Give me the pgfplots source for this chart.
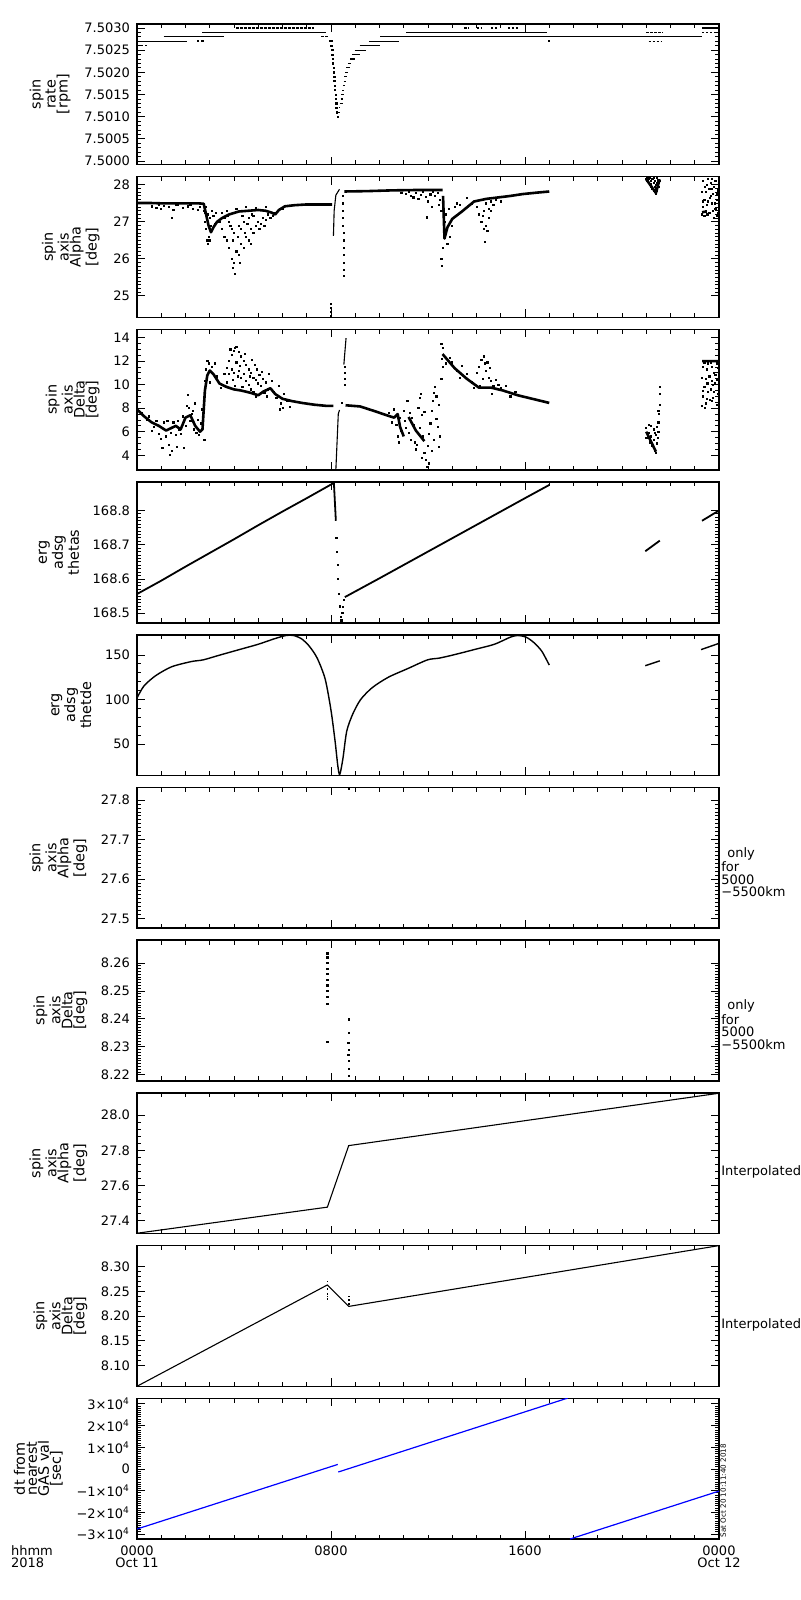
\documentclass[border=0pt]{standalone}
\usepackage{fontspec}
\setmainfont{DejaVu Sans}
\usepackage{pgfplots}
\pgfplotsset{compat=1.18}
\pgfplotsset{
  panel/.style={scale only axis, width=291pt, height=70.35pt, anchor=north west,
    xmin=0, xmax=24, xtick={0,8,16,24}, minor x tick num=7, xticklabels={},
    tick align=inside, major tick length=4pt, minor tick length=2.2pt,
    axis line style={line width=0.75pt},
    every tick/.style={black, line width=0.45pt},
    tick label style={font=\fontsize{6.5}{6}\selectfont},
    ylabel style={font=\fontsize{7.2}{6}\selectfont, align=center},
    /pgf/number format/assume math mode=true,
    clip mode=individual, scaled y ticks=false,
    unbounded coords=jump},
  dots/.style={only marks, mark=square*, mark size=0.3pt, black},
  band/.style={black, line width=1.3pt, line join=round, mark=none},
  thin/.style={black, line width=0.55pt, mark=none},
  dsh/.style={black, line width=0.55pt, mark=none, dash pattern=on 1.2pt off 0.8pt},
}
\tikzset{note/.style={anchor=west, align=left, font=\fontsize{6.5}{6.2}\selectfont, inner sep=1pt}}
\begin{document}
\begin{tikzpicture}
\fill[white] (0,0) rectangle (400pt,800pt);
\useasboundingbox (0,0) rectangle (400pt,800pt);

% ---------- Panel 1: spin rate ----------
\begin{axis}[panel, at={(68.5pt,788pt)}, ymin=7.49992, ymax=7.50309,
  ytick={7.5000,7.5005,7.5010,7.5015,7.5020,7.5025,7.5030},
  yticklabels={7.5000,7.5005,7.5010,7.5015,7.5020,7.5025,7.5030},
  minor y tick num=4, ylabel={spin\\rate\\{[rpm]}}]
\addplot[thin] coordinates {
(9.18,7.5026) (10.0,7.5026) (10.0,nan)
(0,7.5027) (2.05,7.5027) (2.05,nan)
(9.56,7.5027) (10.82,7.5027) (10.82,nan)
(1.1,7.5028) (3.6,7.5028) (3.6,nan)
(10.04,7.5028) (23.3,7.5028) (23.3,nan)
(2.7,7.5029) (7.8,7.5029) (7.8,nan)
(11.1,7.5029) (16.9,7.5029) (16.9,nan)
(23.3,7.5030) (24,7.5030) (24,nan)
(8.97,7.5025) (9.45,7.5025) (9.45,nan)
(8.88,7.5024) (9.18,7.5024) (9.18,nan)
(8.79,7.5023) (8.97,7.5023) (8.97,nan)
(8.70,7.5022) (8.84,7.5022) (8.84,nan)
(8.63,7.5021) (8.77,7.5021) (8.77,nan)
(8.59,7.5020) (8.70,7.5020) (8.70,nan)
(8.55,7.5019) (8.66,7.5019) (8.66,nan)
(8.52,7.5018) (8.60,7.5018) (8.60,nan)
(8.49,7.5017) (8.58,7.5017) (8.58,nan)
(8.47,7.5016) (8.55,7.5016) (8.55,nan)
(8.42,7.5015) (8.52,7.5015) (8.52,nan)
(8.40,7.5014) (8.49,7.5014) (8.49,nan)
(8.36,7.5013) (8.49,7.5013) (8.49,nan)
(8.32,7.5012) (8.38,7.5012) (8.38,nan)
(8.25,7.5011) (8.36,7.5011) (8.36,nan)
(8.25,7.5010) (8.33,7.5010)
};
\addplot[dsh] coordinates {
(0,7.5026) (0.4,7.5026) (0.4,nan)
(21.1,7.5027) (21.6,7.5027) (21.6,nan)
(7.6,7.5028) (7.9,7.5028) (7.9,nan)
(21.0,7.5029) (21.7,7.5029) (21.7,nan)
(23.3,7.5029) (24,7.5029) (24,nan)
(4.1,7.5030) (7.3,7.5030) (7.3,nan)
(13.5,7.5030) (13.7,7.5030) (13.7,nan)
(14.0,7.5030) (14.2,7.5030) (14.2,nan)
(14.6,7.5030) (14.9,7.5030) (14.9,nan)
(15.3,7.5030) (15.7,7.5030)
};
\addplot[dots] coordinates {
(7.95,7.5027) (7.99,7.5026) (8.04,7.5027) (8.04,7.5026) (8.055,7.5025) (8.055,7.5024)
(8.08,7.5023) (8.08,7.5022) (8.11,7.5021) (8.11,7.5020) (8.14,7.5019) (8.14,7.5018)
(8.16,7.5017) (8.16,7.5016) (8.19,7.5015) (8.19,7.5014) (8.22,7.5013) (8.22,7.5012)
(8.25,7.5011) (8.29,7.5010) (17.0,7.5027) (2.5,7.5027) (2.7,7.5027)
};
\end{axis}

% ---------- Panel 2: spin axis Alpha ----------
\begin{axis}[panel, at={(68.5pt,711.65pt)}, ymin=24.42, ymax=28.22,
  ytick={25,26,27,28}, yticklabels={25,26,27,28}, minor y tick num=9,
  ylabel={spin\\axis\\Alpha\\{[deg]}}]
\addplot[band] coordinates {
(0,27.51) (0.5,27.51) (1.0,27.5) (1.5,27.5) (2.0,27.5) (2.5,27.5) (2.75,27.49)
(2.85,27.2) (2.95,26.9) (3.05,26.72) (3.15,26.85) (3.3,27.0) (3.5,27.1) (3.8,27.2)
(4.2,27.28) (4.6,27.3) (5.0,27.32) (5.3,27.3) (5.55,27.25) (5.7,27.2) (5.85,27.32)
(6.1,27.42) (6.5,27.45) (7.0,27.47) (7.5,27.47) (8.05,27.47) (8.05,nan)
(8.55,27.82) (9.5,27.83) (10.5,27.85) (11.5,27.86) (12.6,27.86) (12.6,nan)
(12.62,27.7) (12.68,26.55) (12.8,26.85) (13.0,27.08) (13.4,27.28) (13.9,27.55)
(14.4,27.62) (14.9,27.66) (15.4,27.7) (15.9,27.75) (16.5,27.79) (17.0,27.82) (17.0,nan)
(21.0,28.15) (21.4,27.78) (21.55,28.15) (21.55,nan)
(23.3,27.26) (23.5,27.28)
};
\addplot[thin] coordinates {(8.1,26.62) (8.13,27.3) (8.2,27.72) (8.35,27.88)};
\addplot[dsh] coordinates {(8.0,24.42) (8.0,24.85)};
\addplot[dots] coordinates {
(0.6,27.42) (0.8,27.38) (1.0,27.35) (1.1,27.44) (1.3,27.4) (1.5,27.32) (1.7,27.45)
(1.9,27.38) (2.1,27.42) (2.3,27.36) (2.5,27.33) (2.6,27.4) (0.9,27.46) (1.6,27.47)
(2.2,27.46) (1.43,27.1)
(2.75,27.3) (2.8,27.0) (2.85,26.8) (2.9,26.5) (2.92,26.4) (2.95,26.6) (3.0,27.1)
(3.05,26.9) (2.8,27.25) (2.9,27.2) (3.1,27.3) (3.2,26.95) (3.0,26.5) (2.85,27.4)
(3.15,27.15) (3.25,27.25)
(3.4,27.0) (3.5,26.8) (3.6,26.6) (3.7,26.5) (3.8,26.3) (3.9,26.0) (4.0,25.9)
(4.05,25.6) (4.1,26.2) (4.2,26.1) (4.3,26.4) (4.4,26.3) (4.5,26.6) (4.6,26.5)
(4.7,26.8) (4.8,26.7) (4.9,26.9) (5.0,27.0) (5.1,26.95) (5.2,27.1) (5.3,27.05)
(5.4,27.2) (5.5,27.1) (5.6,27.15) (5.7,27.25) (3.6,27.1) (3.8,27.0) (3.9,26.8)
(4.0,26.7) (4.2,26.9) (4.4,27.0) (4.6,27.1) (4.8,27.15) (3.5,27.25) (3.7,27.3)
(4.1,27.35) (4.5,27.4) (4.9,27.38) (5.3,27.4) (5.8,27.3) (6.0,27.35) (4.3,26.8)
(4.7,26.4) (3.95,26.5) (4.15,26.6) (4.35,27.15) (4.55,26.95) (4.75,27.2) (5.05,26.8)
(5.25,26.9) (3.85,26.9) (3.75,27.15) (4.45,26.7) (4.25,25.9) (3.95,25.75)
(8.5,27.7) (8.5,27.5) (8.5,27.3) (8.5,27.1) (8.5,26.9) (8.52,26.7) (8.52,26.5)
(8.52,26.3) (8.53,26.1) (8.53,25.9) (8.53,25.7) (8.53,25.55)
(10.9,27.78) (11.1,27.75) (11.3,27.7) (11.5,27.78) (11.7,27.72) (11.9,27.68)
(12.1,27.74) (12.3,27.7) (12.5,27.6) (11.6,27.62) (12.0,27.55) (12.4,27.78)
(11.2,27.8) (11.8,27.8) (12.2,27.81) (11.4,27.66) (12.45,27.45) (12.55,27.3)
(11.95,27.12) (12.15,27.4)
(12.55,26.0) (12.58,25.8) (12.62,26.3) (12.65,26.7) (12.7,27.0) (12.75,27.2)
(12.6,27.5) (12.85,27.35) (12.9,26.6) (13.0,26.9) (13.1,27.4) (13.2,27.5)
(12.8,26.4) (13.3,27.45)
(13.8,27.5) (14.0,27.4) (14.1,27.2) (14.2,27.0) (14.3,26.8) (14.35,26.45)
(14.4,26.9) (14.5,27.1) (14.6,27.3) (14.7,27.45) (14.2,27.6) (14.4,27.5)
(14.5,27.35) (14.3,27.3) (14.6,27.55) (14.8,27.6) (13.6,27.65) (15.0,27.55)
(14.25,27.15) (14.45,26.75)
(21.0,28.15) (21.05,28.1) (21.1,28.05) (21.15,28.0) (21.2,27.95) (21.25,27.9)
(21.3,27.85) (21.35,27.8) (21.4,27.76) (21.45,27.85) (21.5,27.95) (21.55,28.1)
(21.1,28.15) (21.2,28.1) (21.3,28.05) (21.4,28.0) (21.5,28.12) (21.25,28.15)
(21.35,27.95) (21.45,28.05) (21.15,28.2) (21.3,28.18) (21.45,28.18) (21.05,28.2)
(21.2,28.02) (21.35,28.1) (21.4,27.88)
(23.3,27.2) (23.35,27.4) (23.4,27.6) (23.45,27.8) (23.5,28.0) (23.55,28.15)
(23.6,27.9) (23.65,27.7) (23.7,27.5) (23.75,27.3) (23.8,27.1) (23.85,27.35)
(23.9,27.6) (23.95,27.85) (23.35,28.1) (23.45,27.3) (23.55,27.55) (23.65,28.05)
(23.75,27.75) (23.85,28.1) (23.95,27.25) (23.3,27.8) (23.4,27.15) (23.5,27.45)
(23.6,27.25) (23.7,28.15) (23.8,27.95) (23.9,27.15) (23.32,27.55) (23.42,27.95)
(23.52,27.2) (23.62,27.65) (23.72,27.9) (23.82,27.5) (23.92,27.75)
};
\end{axis}

% ---------- Panel 3: spin axis Delta ----------
\begin{axis}[panel, at={(68.5pt,635.3pt)}, ymin=2.74, ymax=14.7,
  ytick={4,6,8,10,12,14}, yticklabels={4,6,8,10,12,14}, minor y tick num=3,
  ylabel={spin\\axis\\Delta\\{[deg]}}]
\addplot[band] coordinates {
(0,7.9) (0.3,7.3) (0.6,6.8) (0.9,6.5) (1.2,6.1) (1.4,6.3) (1.6,6.5) (1.8,6.2)
(2.0,7.2) (2.2,7.4) (2.4,6.5) (2.6,6.0) (2.7,6.2) (2.8,9.5) (2.9,10.8) (3.0,11.2)
(3.15,10.9) (3.4,10.1) (3.7,9.8) (4.0,9.6) (4.3,9.5) (4.7,9.3) (5.0,9.1) (5.2,9.4)
(5.5,9.7) (5.7,9.2) (6.0,8.8) (6.4,8.6) (6.8,8.45) (7.3,8.3) (7.8,8.2) (8.1,8.2) (8.1,nan)
(8.6,8.25) (9.2,8.15) (9.8,7.75) (10.3,7.4) (10.6,7.2) (10.75,7.5) (10.85,6.4) (11.0,5.6) (11.0,nan)
(11.2,7.25) (11.5,6.1) (11.85,5.2) (11.85,nan)
(12.6,12.6) (13.1,11.4) (13.6,10.5) (14.1,9.75) (14.6,9.75) (15.1,9.5) (15.7,9.1)
(16.4,8.75) (17.0,8.45) (17.0,nan)
(21.0,6.0) (21.4,4.3) (21.4,nan)
(23.3,12.0) (24,12.0)
};
\addplot[thin] coordinates {(8.2,2.74) (8.3,7.5) (8.35,7.85) (8.35,nan) (8.53,11.7) (8.62,13.95)};
\addplot[dots] coordinates {
(8.45,8.45) (8.58,10.0) (8.58,10.5) (8.58,11.0) (8.58,11.5)
(0.2,7.6) (0.4,7.0) (0.5,7.3) (0.7,6.4) (0.8,6.9) (0.9,5.8) (1.0,5.4) (1.05,4.6)
(1.1,6.8) (1.2,5.6) (1.3,4.9) (1.35,4.0) (1.4,5.9) (1.5,6.8) (1.6,5.7) (1.65,4.7)
(1.7,6.9) (1.8,5.8) (1.9,7.3) (2.0,6.5) (2.05,8.2) (2.1,9.1) (2.15,8.0) (2.2,6.9)
(2.3,7.8) (2.35,6.2) (2.4,8.4) (2.5,7.0) (2.55,5.7) (2.65,6.7) (2.7,7.9) (2.75,8.7)
(2.78,5.3) (2.8,10.3) (2.85,11.3) (2.9,12.0) (2.95,11.8) (3.0,10.2) (3.1,11.5)
(3.2,11.8) (3.3,10.7) (3.45,9.7) (1.95,4.6) (0.6,6.1) (1.25,6.9) (1.45,4.4)
(1.75,6.2) (2.25,7.5) (2.45,5.9)
(3.6,10.9) (3.7,11.4) (3.8,12.0) (3.9,12.5) (4.0,12.9) (4.1,13.2) (4.2,12.8)
(4.3,12.4) (4.4,12.0) (4.5,11.7) (4.6,11.3) (4.7,11.0) (4.8,10.6) (4.9,10.4)
(5.0,10.1) (5.1,9.9) (5.2,10.5) (5.3,10.2) (5.4,9.6) (3.7,10.2) (3.8,10.9)
(3.9,11.3) (4.0,11.0) (4.1,11.9) (4.2,11.2) (4.3,10.6) (4.4,10.9) (4.5,10.3)
(4.6,10.0) (4.7,9.6) (4.8,9.4) (4.9,9.0) (3.95,10.4) (4.05,9.9) (4.15,10.7)
(4.25,11.6) (4.35,9.8) (4.45,12.6) (4.55,9.4) (4.65,10.7) (4.75,12.1) (4.85,11.7)
(4.95,11.3) (5.05,10.8) (5.15,11.1) (5.25,9.3) (5.35,9.0) (5.45,10.9) (5.55,10.3)
(5.65,9.4) (5.75,8.9) (5.85,9.9) (5.95,8.4) (6.05,9.2) (6.2,8.6) (6.3,8.1)
(5.9,7.9) (6.0,8.0) (3.85,13.0) (4.05,13.1)
(10.4,7.6) (10.5,6.8) (10.6,7.9) (10.7,6.6) (10.75,5.6) (10.8,5.1) (10.85,7.2)
(10.9,6.1) (11.0,7.8) (11.05,6.9) (11.1,6.3) (11.15,8.6) (11.2,5.9) (11.3,5.3)
(11.35,7.2) (11.4,6.6) (11.45,5.1) (11.5,4.5) (11.55,6.0) (11.6,8.0) (11.65,8.9)
(11.7,9.2) (11.75,7.4) (11.8,5.6) (11.85,4.2) (11.9,3.6) (11.95,3.0) (12.0,4.8)
(12.05,5.8) (12.1,6.7) (12.15,7.8) (12.2,8.6) (12.25,9.3) (12.3,9.8) (12.35,7.1)
(12.4,6.4) (12.45,8.3) (12.5,5.6) (12.55,10.5) (12.6,11.5) (12.62,13.1) (12.58,12.2)
(11.25,7.6) (11.55,4.9) (11.75,3.8) (12.05,3.3) (12.25,5.3) (11.85,7.7) (12.15,4.4)
(11.65,6.3) (12.35,9.0) (12.45,4.7) (12.55,13.5)
(13.0,11.9) (13.2,11.2) (13.4,11.6) (13.6,10.9) (13.8,10.2) (14.0,11.0) (14.1,11.5)
(14.2,12.1) (14.3,12.4) (14.35,11.8) (14.4,11.2) (14.5,10.6) (14.6,10.3) (14.7,9.9)
(14.8,10.4) (14.9,10.0) (15.0,9.7) (14.25,10.5) (14.45,11.9) (14.15,9.9) (14.55,11.4)
(13.9,9.7) (14.65,9.2) (13.3,10.6) (12.9,12.3) (12.75,11.8) (15.2,9.9) (15.4,9.0)
(15.6,9.4)
(21.0,6.3) (21.05,5.5) (21.1,5.9) (21.15,5.1) (21.2,5.6) (21.25,4.8) (21.3,5.3)
(21.35,4.4) (21.4,4.2) (21.45,5.0) (21.5,6.0) (21.5,6.8) (21.52,7.5) (21.55,8.3)
(21.55,9.2) (21.55,9.8) (21.45,6.4) (21.4,5.7) (21.3,6.2) (21.2,6.5) (21.1,6.6)
(21.0,5.5) (21.5,7.8) (21.48,5.5) (21.35,5.9)
(23.3,8.2) (23.35,9.0) (23.4,9.8) (23.45,10.5) (23.5,11.3) (23.55,11.8) (23.6,10.7)
(23.65,9.6) (23.7,8.6) (23.75,10.0) (23.8,11.0) (23.85,12.0) (23.9,10.4) (23.95,9.2)
(23.35,11.5) (23.45,8.4) (23.55,9.4) (23.65,11.9) (23.75,8.9) (23.85,10.8)
(23.95,11.4) (23.3,10.6) (23.4,11.9) (23.5,8.8) (23.6,12.0) (23.7,11.5) (23.8,9.4)
(23.9,8.3) (23.32,9.5) (23.42,8.0) (23.52,10.1) (23.62,8.7) (23.72,10.3)
(23.82,10.1) (23.92,11.8)
};
\end{axis}

% ---------- Panel 4: erg adsg thetas ----------
\begin{axis}[panel, at={(68.5pt,558.95pt)}, ymin=168.472, ymax=168.883,
  ytick={168.5,168.6,168.7,168.8}, yticklabels={168.5,168.6,168.7,168.8},
  minor y tick num=9, ylabel={erg\\adsg\\thetas}]
\addplot[black, line width=0.9pt] coordinates {
(0,168.556) (1,168.595) (2,168.636) (3,168.676) (4,168.716) (5,168.757) (6,168.797)
(7,168.836) (8.08,168.879) (8.12,168.88) (8.2,168.77) (8.2,nan)
(8.57,168.547) (10,168.602) (12,168.680) (14,168.758) (16,168.836) (17.01,168.875) (17.01,nan)
(20.96,168.681) (21.56,168.712) (21.56,nan)
(23.3,168.77) (24,168.80)
};
\addplot[dots] coordinates {
(8.22,168.72) (8.25,168.68) (8.27,168.64) (8.3,168.6) (8.33,168.556) (8.36,168.52)
(8.4,168.49) (8.43,168.479) (8.47,168.5) (8.49,168.518) (8.53,168.54)
};
\end{axis}

% ---------- Panel 5: erg adsg thetde ----------
\begin{axis}[panel, at={(68.5pt,482.6pt)}, ymin=15, ymax=172.6,
  ytick={50,100,150}, yticklabels={50,100,150}, minor y tick num=4,
  ylabel={erg\\adsg\\thetde}]
\addplot[black, line width=0.7pt, smooth, tension=0.45] coordinates {
(0,101.8) (0.29,115.4) (0.78,127) (1.43,136.8) (2.24,142.6) (2.73,144.5) (3.38,149.6)
(4.19,155.8) (5.0,162) (5.65,168) (6.14,171.8) (6.46,171.8) (6.79,168) (7.1,160)
(7.43,146.5) (7.76,123) (8.0,88) (8.17,53) (8.28,26) (8.36,16) (8.49,33.7)
(8.65,64.8) (8.9,84) (9.22,100) (9.7,113.4) (10.36,125) (11.17,134.8) (11.98,144.5)
(12.47,146.5) (13.1,150.4) (13.93,156.2) (14.74,162) (15.4,170) (15.7,171.8)
(16.04,170) (16.36,164) (16.69,154.3) (17.0,138.7)
};
\addplot[black, line width=0.7pt] coordinates {(20.96,138) (21.56,143.4) (21.56,nan) (23.26,156) (24,163)};
\end{axis}

% ---------- Panel 6: spin axis Alpha (5000-5500km) ----------
\begin{axis}[panel, at={(68.5pt,406.25pt)}, ymin=27.4755, ymax=27.832,
  ytick={27.5,27.6,27.7,27.8}, yticklabels={27.5,27.6,27.7,27.8},
  minor y tick num=9, ylabel={spin\\axis\\Alpha\\{[deg]}}]
\addplot[dots] coordinates {(8.73,27.829)};
\node[note] at (rel axis cs:1,0.40) {\hspace{3pt}only\\for\\5000\\−5500km};
\end{axis}

% ---------- Panel 7: spin axis Delta (5000-5500km) ----------
\begin{axis}[panel, at={(68.5pt,329.9pt)}, ymin=8.2178, ymax=8.2682,
  ytick={8.22,8.23,8.24,8.25,8.26}, yticklabels={8.22,8.23,8.24,8.25,8.26},
  minor y tick num=9, ylabel={spin\\axis\\Delta\\{[deg]}}]
\addplot[dots] coordinates {
(7.85,8.2635) (7.85,8.262) (7.85,8.260) (7.85,8.258) (7.85,8.256) (7.85,8.254)
(7.85,8.252) (7.85,8.250) (7.85,8.248) (7.85,8.2455) (7.85,8.2318)
(8.73,8.2398) (8.73,8.235) (8.72,8.2315) (8.73,8.229) (8.72,8.227) (8.73,8.225)
(8.73,8.222) (8.73,8.2195)
};
\node[note] at (rel axis cs:1,0.40) {\hspace{3pt}only\\for\\5000\\−5500km};
\end{axis}

% ---------- Panel 8: interpolated Alpha ----------
\begin{axis}[panel, at={(68.5pt,253.55pt)}, ymin=27.328, ymax=28.126,
  ytick={27.4,27.6,27.8,28.0}, yticklabels={27.4,27.6,27.8,28.0},
  minor y tick num=4, ylabel={spin\\axis\\Alpha\\{[deg]}}]
\addplot[thin] coordinates {(0,27.33) (7.85,27.478) (8.73,27.827) (24,28.124)};
\node[note] at (rel axis cs:1,0.44) {Interpolated};
\end{axis}

% ---------- Panel 9: interpolated Delta ----------
\begin{axis}[panel, at={(68.5pt,177.2pt)}, ymin=8.058, ymax=8.3426,
  ytick={8.10,8.15,8.20,8.25,8.30}, yticklabels={8.10,8.15,8.20,8.25,8.30},
  minor y tick num=4, ylabel={spin\\axis\\Delta\\{[deg]}}]
\addplot[thin] coordinates {(0,8.058) (7.85,8.263) (8.73,8.2196) (24,8.3426)};
\addplot[only marks, mark=square*, mark size=0.2pt, black] coordinates {
(7.85,8.27) (7.85,8.255) (7.85,8.245) (7.85,8.24) (7.85,8.235)
(8.73,8.24) (8.73,8.232) (8.73,8.225)
};
\node[note] at (rel axis cs:1,0.435) {Interpolated};
\end{axis}

% ---------- Panel 10: dt from nearest GAS val ----------
\begin{axis}[panel, at={(68.5pt,100.85pt)}, ymin=-32300, ymax=32600,
  ytick={-30000,-20000,-10000,0,10000,20000,30000},
  yticklabels={−3×10\textsuperscript{4},−2×10\textsuperscript{4},−1×10\textsuperscript{4},0,1×10\textsuperscript{4},2×10\textsuperscript{4},3×10\textsuperscript{4}},
  minor y tick num=9, ylabel={dt from\\nearest\\GAS val\\{[sec]}},
  xticklabels={0000\\Oct 11,0800,1600,0000\\Oct 12},
  xticklabel style={align=center, font=\fontsize{6.5}{6}\selectfont}]
\addplot[blue, line width=0.6pt] coordinates {
(0,-27700) (8.28,2100) (8.28,nan)
(8.3,-1400) (17.76,32700) (17.76,nan)
(17.86,-32300) (24,-10200)
};
\node[rotate=90, anchor=north west, font=\fontsize{3.6}{4}\selectfont, inner sep=0.6pt]
  at (rel axis cs:1,0) {Sat Oct 20 10:11:40 2018};
\node[anchor=north west, align=left, font=\fontsize{6.5}{6}\selectfont, xshift=-66.5pt]
  at (rel axis cs:0,0) {hhmm\\2018};
\end{axis}
\end{tikzpicture}
\end{document}
